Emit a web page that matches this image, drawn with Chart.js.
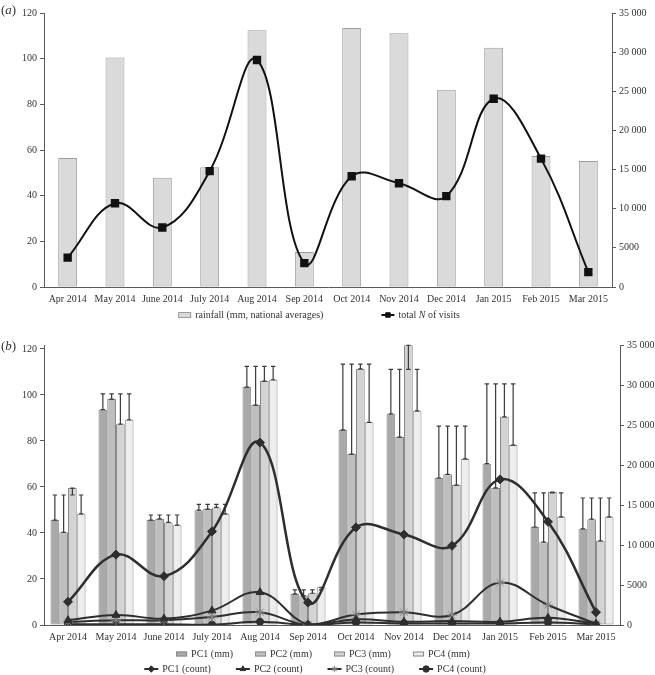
<!DOCTYPE html>
<html>
<head>
<meta charset="utf-8">
<script src="https://cdn.jsdelivr.net/npm/chart.js@4.4.1/dist/chart.umd.min.js"></script>
<style>
  html, body { margin: 0; padding: 0; background: #fff; }
  #wrap { position: relative; width: 655px; height: 675px; }
  canvas { position: absolute; left: 0; }
  #ca { top: 0; }
  #cb { top: 330px; }
  .tag { position: absolute; left: 1px; font: 13px 'Liberation Serif', 'Times New Roman', serif; color: #333; line-height: 15px; }
</style>
</head>
<body>
<div id="wrap">
  <canvas id="ca" width="655" height="330"></canvas>
  <canvas id="cb" width="655" height="345"></canvas>
  <span class="tag" style="top:2px">(<i>a</i>)</span>
  <span class="tag" style="top:338px">(<i>b</i>)</span>
</div>
<script>
const months = ['Apr 2014', 'May 2014', 'June 2014', 'July 2014', 'Aug 2014', 'Sep 2014',
                'Oct 2014', 'Nov 2014', 'Dec 2014', 'Jan 2015', 'Feb 2015', 'Mar 2015'];

// panel (a)
const rainfall = [56.5, 100.5, 47.8, 52.4, 112.4, 15.3, 113.4, 111.1, 86.4, 104.8, 57.4, 55.2];
const visits = [3750, 10700, 7600, 14800, 29000, 3050, 14150, 13250, 11600, 24050, 16400, 1900];

// panel (b) rainfall per cluster (mm)
const pc1Rain = [45.6, 93.6, 45.6, 49.9, 103.4, 13.5, 84.8, 91.8, 63.9, 70.1, 42.6, 41.8];
const pc2Rain = [40.3, 98.2, 46.1, 50.4, 95.6, 12.8, 74.3, 81.7, 65.5, 59.6, 36.0, 46.0];
const pc3Rain = [59.5, 87.3, 44.6, 51.1, 106.0, 13.8, 111.3, 121.6, 60.8, 90.5, 57.8, 36.6];
const pc4Rain = [48.3, 89.2, 43.4, 48.3, 106.6, 16.4, 88.1, 93.1, 72.2, 78.2, 47.0, 47.0];

// panel (b) visit counts per cluster
const pc1Count = [2900, 8800, 6100, 11700, 22800, 2800, 12200, 11300, 9900, 18200, 12900, 1600];
const pc2Count = [600, 1250, 800, 1800, 4100, 50, 700, 400, 500, 400, 900, 150];
const pc3Count = [400, 600, 600, 1000, 1600, 30, 1300, 1600, 1250, 5300, 2500, 150];
const pc4Count = [100, 100, 100, 50, 400, 20, 300, 200, 200, 200, 300, 80];

const FONT = "'Liberation Serif', 'Times New Roman', serif";
const TXT = '#333';
const AXIS = '#5a5a5a';

Chart.defaults.font.family = FONT;
Chart.defaults.font.size = 10;
Chart.defaults.color = TXT;

function fmt(v) {
  return v >= 10000 ? String(v).replace(/(\d{3})$/, ' $1') : String(v);
}

function drawMark(ctx, ds, x, y, w) {
  ctx.save();
  if (ds.type === 'line') {
    ctx.strokeStyle = ds.borderColor;
    ctx.lineWidth = 2;
    ctx.beginPath();
    ctx.moveTo(x, y);
    ctx.lineTo(x + w, y);
    ctx.stroke();
    ctx.fillStyle = ds.pointBackgroundColor;
    ctx.strokeStyle = ds.pointBorderColor;
    ctx.lineWidth = 1;
    if (Chart.helpers && Chart.helpers.drawPoint) {
      Chart.helpers.drawPoint(ctx, { pointStyle: ds.pointStyle, radius: 3.2, borderWidth: 1, rotation: 0 }, x + w / 2, y);
    } else {
      ctx.fillRect(x + w / 2 - 2.5, y - 2.5, 5, 5);
    }
  } else {
    const h = w > 11 ? 6 : 5;
    ctx.fillStyle = ds.backgroundColor;
    ctx.strokeStyle = ds.borderColor;
    ctx.lineWidth = 1;
    ctx.fillRect(x, y - h / 2, w, h);
    ctx.strokeRect(x + 0.5, y - h / 2 + 0.5, w - 1, h - 1);
  }
  ctx.restore();
}

// label text; a lone "N" is set in italics
function labelParts(text) {
  return text.split(/(\bN\b)/).filter(s => s.length).map(s => ({ s, it: s === 'N' }));
}

function rowLegend(rows) {
  return {
    id: 'rowLegend',
    afterDraw(chart) {
      const ctx = chart.ctx;
      ctx.save();
      ctx.textBaseline = 'middle';
      rows.forEach(row => {
        const items = row.items.map(i => chart.data.datasets[i]);
        const widths = items.map(ds => {
          let tw = 0;
          labelParts(ds.label).forEach(p => {
            ctx.font = (p.it ? 'italic ' : '') + '10px ' + FONT;
            tw += ctx.measureText(p.s).width;
          });
          return row.mark + 4 + tw;
        });
        const total = widths.reduce((a, b) => a + b, 0) + row.gap * (items.length - 1);
        let x = row.cx - total / 2;
        items.forEach((ds, k) => {
          drawMark(ctx, ds, x, row.y, row.mark);
          let tx = x + row.mark + 4;
          ctx.fillStyle = TXT;
          labelParts(ds.label).forEach(p => {
            ctx.font = (p.it ? 'italic ' : '') + '10px ' + FONT;
            ctx.fillText(p.s, tx, row.y);
            tx += ctx.measureText(p.s).width;
          });
          x += widths[k] + row.gap;
        });
      });
      ctx.restore();
    }
  };
}

// error bars run from each cluster value to the national average
const errorBars = {
  id: 'errorBars',
  afterDatasetDraw(chart, args) {
    const ds = chart.data.datasets[args.index];
    if (ds.type !== 'bar') return;
    const ys = chart.scales.y;
    const ctx = chart.ctx;
    ctx.save();
    ctx.strokeStyle = '#3a3a3a';
    ctx.lineWidth = 1.2;
    args.meta.data.forEach((bar, i) => {
      const y0 = ys.getPixelForValue(ds.data[i]);
      const y1 = ys.getPixelForValue(rainfall[i]);
      ctx.beginPath();
      ctx.moveTo(bar.x, y0);
      ctx.lineTo(bar.x, y1);
      ctx.moveTo(bar.x - 2.2, y1);
      ctx.lineTo(bar.x + 2.2, y1);
      ctx.moveTo(bar.x - 2.2, y0);
      ctx.lineTo(bar.x + 2.2, y0);
      ctx.stroke();
    });
    ctx.restore();
  }
};

function xScale() {
  return {
    grid: { display: false, drawTicks: false },
    border: { color: AXIS },
    ticks: { padding: 6, maxRotation: 0, autoSkip: false },
    afterFit: s => { s.height = 26; }
  };
}

function yScale(pos, max, step, width) {
  return {
    position: pos,
    min: 0,
    max: max,
    ticks: { stepSize: step, padding: 3, includeBounds: false, callback: v => fmt(v) },
    grid: { drawOnChartArea: false, tickLength: 4, color: AXIS },
    border: { color: AXIS },
    afterFit: s => { s.width = width; }
  };
}

new Chart(document.getElementById('ca'), {
  type: 'bar',
  data: {
    labels: months,
    datasets: [
      {
        type: 'bar', label: 'rainfall (mm, national averages)', data: rainfall, yAxisID: 'y',
        backgroundColor: '#dadada', borderColor: '#9d9d9d', borderWidth: 1, borderSkipped: false,
        categoryPercentage: 0.4, barPercentage: 1, order: 2
      },
      {
        type: 'line', label: 'total N of visits', data: visits, yAxisID: 'y2',
        borderColor: '#111', borderWidth: 2, tension: 0.4,
        pointStyle: 'rect', pointRadius: 4.5,
        pointBackgroundColor: '#111', pointBorderColor: '#111', order: 1
      }
    ]
  },
  options: {
    responsive: false,
    animation: false,
    layout: { padding: { top: 13, bottom: 17, left: 0, right: 0 } },
    plugins: { legend: { display: false }, tooltip: { enabled: false } },
    scales: {
      x: xScale(),
      y: yScale('left', 120, 20, 44),
      y2: yScale('right', 35000, 5000, 43)
    }
  },
  plugins: [rowLegend([{ items: [0, 1], cx: 319, y: 315, gap: 58, mark: 13 }])]
});

function barSet(label, data, fill) {
  return {
    type: 'bar', label, data, yAxisID: 'y',
    backgroundColor: fill, borderColor: '#8a8a8a', borderWidth: 1, borderSkipped: false,
    categoryPercentage: 0.73, barPercentage: 1, order: 2
  };
}

function lineSet(label, data, style, radius, pointColor, width) {
  return {
    type: 'line', label, data, yAxisID: 'y2',
    borderColor: '#2e2e2e', borderWidth: width, tension: 0.4,
    pointStyle: style, pointRadius: radius, pointBorderWidth: 1,
    pointBackgroundColor: pointColor, pointBorderColor: pointColor, order: 1
  };
}

new Chart(document.getElementById('cb'), {
  type: 'bar',
  data: {
    labels: months,
    datasets: [
      barSet('PC1 (mm)', pc1Rain, '#a9a9a9'),
      barSet('PC2 (mm)', pc2Rain, '#bebebe'),
      barSet('PC3 (mm)', pc3Rain, '#d3d3d3'),
      barSet('PC4 (mm)', pc4Rain, '#ededed'),
      lineSet('PC1 (count)', pc1Count, 'rectRot', 4.5, '#2e2e2e', 2.5),
      lineSet('PC2 (count)', pc2Count, 'triangle', 4.5, '#2e2e2e', 2),
      lineSet('PC3 (count)', pc3Count, 'star', 5, '#8a8a8a', 2),
      lineSet('PC4 (count)', pc4Count, 'circle', 3.5, '#2e2e2e', 2)
    ]
  },
  options: {
    responsive: false,
    animation: false,
    layout: { padding: { top: 15, bottom: 24, left: 0, right: 0 } },
    plugins: { legend: { display: false }, tooltip: { enabled: false } },
    scales: {
      x: xScale(),
      y: yScale('left', 121.7, 20, 44),
      y2: yScale('right', 35000, 5000, 35)
    }
  },
  plugins: [
    errorBars,
    rowLegend([
      { items: [0, 1, 2, 3], cx: 323, y: 324, gap: 22, mark: 11 },
      { items: [4, 5, 6, 7], cx: 315, y: 339, gap: 25, mark: 14 }
    ])
  ]
});
</script>
</body>
</html>
